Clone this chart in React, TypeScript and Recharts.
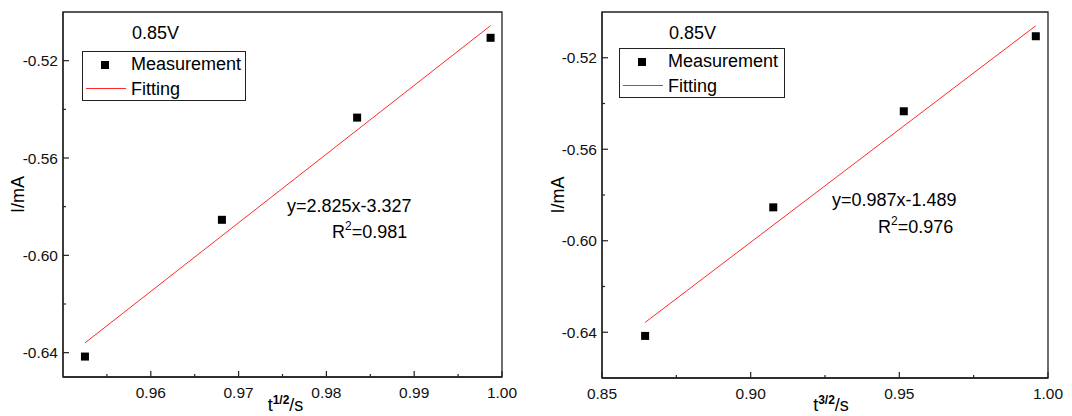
import React from 'react';
import { ScatterChart, Scatter, XAxis, YAxis, ReferenceArea } from 'recharts';

// measured points (same currents, two x transforms)
const sqrtT = [0.9525, 0.9681, 0.9835, 0.9987];
const t32 = [0.8645, 0.9076, 0.9515, 0.9959];
const currentMA = [-0.6416, -0.5854, -0.5434, -0.5106];

// fitted line end points
const fitSqrtX = [0.9525, 0.9987];
const fitSqrtY = [-0.636, -0.5056];
const fitT32X = [0.8645, 0.9959];
const fitT32Y = [-0.6357, -0.506];

const sqrtMajor = [0.96, 0.97, 0.98, 0.99, 1.0];
const sqrtMinor = [0.955, 0.965, 0.975, 0.985, 0.995];
const t32Major = [0.85, 0.9, 0.95, 1.0];
const t32Minor = [0.875, 0.925, 0.975];
const yMajor = [-0.64, -0.6, -0.56, -0.52];
const yMinor = [-0.62, -0.58, -0.54];

const FONT = '"Liberation Sans", Arial, sans-serif';

const isIn = (v: number, list: number[]) => list.some((m) => Math.abs(m - v) < 1e-6);

const XTick = (props: any) => {
  const { x, y, payload, major } = props;
  const big = isIn(payload.value, major);
  return (
    <g>
      <line x1={x} x2={x} y1={y} y2={y - (big ? 6 : 3)} stroke="#222" strokeWidth={1.2} />
      {big && (
        <text x={x} y={y + 21} textAnchor="middle" fontSize={15.5} fontFamily={FONT} fill="#111">
          {payload.value.toFixed(2)}
        </text>
      )}
    </g>
  );
};

const YTick = (props: any) => {
  const { x, y, payload } = props;
  const big = isIn(payload.value, yMajor);
  return (
    <g>
      <line x1={x} x2={x + (big ? 6 : 3)} y1={y} y2={y} stroke="#222" strokeWidth={1.2} />
      {big && (
        <text x={x - 5} y={y + 5.5} textAnchor="end" fontSize={15.5} fontFamily={FONT} fill="#111">
          {payload.value.toFixed(2)}
        </text>
      )}
    </g>
  );
};

const Square = (props: any) => <rect x={props.cx - 4} y={props.cy - 4} width={8} height={8} fill="#000" />;
const NoDot = () => <g />;

interface PanelProps {
  left: number;
  width: number;
  yAxisWidth: number;
  right: number;
  xHeight: number;
  xs: number[];
  fitX: number[];
  fitY: number[];
  xDomain: [number, number];
  yDomain: [number, number];
  xMajor: number[];
  xMinor: number[];
  sup: string;
  titleDx: number;
  titleDy: number;
  note: { x: number; y: number };
  legend: { x: number; y: number; w: number };
  eq: { x: number; y: number; text: string };
  r2: { x: number; y: number; text: string };
}

const Panel: React.FC<PanelProps> = (p) => {
  const pts = p.xs.map((x, i) => ({ x, y: currentMA[i] }));
  const fit = p.fitX.map((x, i) => ({ x, y: p.fitY[i] }));
  const ticksX = [...p.xMajor, ...p.xMinor].sort((a, b) => a - b);
  const ticksY = [...yMajor, ...yMinor].sort((a, b) => a - b);
  const txt: React.CSSProperties = { position: 'absolute', fontFamily: FONT, fontSize: 18, lineHeight: '18px', color: '#000', whiteSpace: 'nowrap' };

  return (
    <div style={{ position: 'absolute', left: p.left, top: 0, width: p.width, height: 416 }}>
      <ScatterChart width={p.width} height={416} margin={{ top: 12, right: p.right, bottom: 0, left: 0 }}>
        <XAxis
          type="number"
          dataKey="x"
          domain={p.xDomain}
          allowDataOverflow
          ticks={ticksX}
          interval={0}
          height={p.xHeight}
          tickSize={0}
          tickMargin={0}
          tickLine={false}
          axisLine={{ stroke: '#222', strokeWidth: 1.3 }}
          tick={<XTick major={p.xMajor} />}
          label={(lp: any) => {
            const vb = lp.viewBox;
            const cx = vb.x + vb.width / 2 + p.titleDx;
            const by = vb.y + p.titleDy;
            return (
              <text x={cx} y={by} textAnchor="middle" fontFamily={FONT} fontSize={18} fill="#000">
                <tspan>t</tspan>
                <tspan dy={-7} fontSize={12} fontWeight="bold">{p.sup}</tspan>
                <tspan dy={7}>/s</tspan>
              </text>
            );
          }}
        />
        <YAxis
          type="number"
          dataKey="y"
          domain={p.yDomain}
          allowDataOverflow
          ticks={ticksY}
          interval={0}
          width={p.yAxisWidth}
          tickSize={0}
          tickMargin={0}
          tickLine={false}
          axisLine={{ stroke: '#222', strokeWidth: 1.3 }}
          tick={<YTick />}
          label={(lp: any) => {
            const vb = lp.viewBox;
            const cx = vb.x + 18;
            const cy = vb.y + vb.height / 2;
            return (
              <text x={cx} y={cy} transform={`rotate(-90, ${cx}, ${cy})`} textAnchor="middle" dominantBaseline="central" fontFamily={FONT} fontSize={18} fill="#000">
                I/mA
              </text>
            );
          }}
        />
        <ReferenceArea x1={p.xDomain[0]} x2={p.xDomain[1]} y1={p.yDomain[0]} y2={p.yDomain[1]} fill="none" stroke="#222" strokeWidth={1.3} />
        <Scatter data={fit} line={{ stroke: '#ff2a2a', strokeWidth: 1 }} shape={NoDot} isAnimationActive={false} />
        <Scatter data={pts} shape={Square} isAnimationActive={false} />
      </ScatterChart>

      <div style={{ ...txt, left: p.note.x, top: p.note.y }}>0.85V</div>

      <div style={{ position: 'absolute', left: p.legend.x, top: p.legend.y, width: p.legend.w, height: 50, border: '1.3px solid #222', boxSizing: 'border-box', background: '#fff' }}>
        <div style={{ position: 'absolute', left: 18, top: 9, width: 8, height: 8, background: '#000' }} />
        <div style={{ ...txt, left: 48, top: 3 }}>Measurement</div>
        <div style={{ position: 'absolute', left: 3, top: 36, width: 40, height: 1, background: '#ff2a2a' }} />
        <div style={{ ...txt, left: 48, top: 28 }}>Fitting</div>
      </div>

      <div style={{ ...txt, left: p.eq.x, top: p.eq.y }}>{p.eq.text}</div>
      <div style={{ ...txt, left: p.r2.x, top: p.r2.y }}>
        R<sup style={{ fontSize: 12, verticalAlign: 'top', lineHeight: '12px', position: 'relative', top: -3 }}>2</sup>
        {p.r2.text}
      </div>
    </div>
  );
};

export default function App() {
  return (
    <div style={{ position: 'absolute', left: 0, top: 0, width: 1072, height: 416, background: '#fff', overflow: 'hidden' }}>
      <Panel
        left={0}
        width={540}
        yAxisWidth={63}
        right={38}
        xHeight={39}
        xs={sqrtT}
        fitX={fitSqrtX}
        fitY={fitSqrtY}
        xDomain={[0.95, 1.0]}
        yDomain={[-0.65, -0.5]}
        xMajor={sqrtMajor}
        xMinor={sqrtMinor}
        sup="1/2"
        titleDx={3}
        titleDy={34}
        note={{ x: 132, y: 24 }}
        legend={{ x: 82, y: 51, w: 164 }}
        eq={{ x: 287, y: 197, text: 'y=2.825x-3.327' }}
        r2={{ x: 332, y: 223, text: '=0.981' }}
      />
      <Panel
        left={540}
        width={532}
        yAxisWidth={62}
        right={24}
        xHeight={38}
        xs={t32}
        fitX={fitT32X}
        fitY={fitT32Y}
        xDomain={[0.85, 1.0]}
        yDomain={[-0.66, -0.5]}
        xMajor={t32Major}
        xMinor={t32Minor}
        sup="3/2"
        titleDx={6}
        titleDy={33}
        note={{ x: 129, y: 24 }}
        legend={{ x: 79, y: 48, w: 166 }}
        eq={{ x: 292, y: 191, text: 'y=0.987x-1.489' }}
        r2={{ x: 338, y: 218, text: '=0.976' }}
      />
    </div>
  );
}
